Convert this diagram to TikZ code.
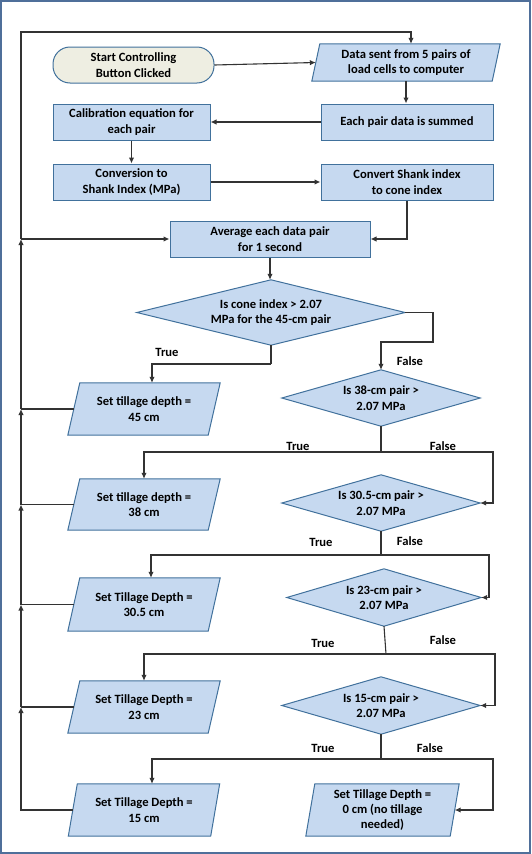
\documentclass[tikz,border=0pt]{standalone}
\usepackage{fontspec}
\setmainfont{Carlito}
\usetikzlibrary{arrows.meta}
\pgfdeclarelayer{bg}
\pgfsetlayers{bg,main}
\definecolor{boxfill}{HTML}{C6D9F0}
\definecolor{boxline}{HTML}{41719C}
\definecolor{startfill}{HTML}{EEEEE2}
\definecolor{frame}{HTML}{4F6F9A}
\definecolor{conn}{HTML}{333333}
\tikzset{
  txt/.style={font=\fontsize{12.6}{15.3}\selectfont\bfseries, align=center, inner sep=0pt, text=black},
  procbox/.style={txt, rectangle, draw=boxline, fill=boxfill, line width=1pt},
  startbox/.style={txt, rectangle, rounded corners=17pt, draw=boxline, fill=startfill, line width=1pt},
  ghost/.style={txt, rectangle},
  shapefill/.style={draw=boxline, fill=boxfill, line width=1pt, line join=miter},
  arr/.style={draw=conn, line width=1.1pt, -{Latex[length=6pt,width=5.5pt]}},
  ln/.style={draw=conn, line width=1.1pt},
  lab/.style={font=\fontsize{12.6}{15}\selectfont\bfseries, inner sep=0pt, text=black}
}
\begin{document}
\begin{tikzpicture}[x=1pt,y=-1pt]
\useasboundingbox (0,0) rectangle (531,854);
\draw[frame, line width=2pt] (1,1) rectangle (530,853);

% process nodes
\node[startbox, minimum width=161pt, minimum height=36pt] (start) at (133.5,65) {Start Controlling\\Button Clicked};
\node[ghost, minimum width=180pt, minimum height=37pt] (data) at (406,62.5) {Data sent from 5 pairs of\\load cells to computer};
\node[procbox, minimum width=172pt, minimum height=36pt] (sum) at (407,122) {Each pair data is summed};
\node[procbox, minimum width=157pt, minimum height=36pt] (calib) at (131.5,122) {Calibration equation for\\each pair};
\node[procbox, minimum width=157pt, minimum height=36pt] (conv) at (131.5,182) {Conversion to\\Shank Index (MPa)};
\node[procbox, minimum width=172pt, minimum height=36pt] (shank) at (407,182) {Convert Shank index\\to cone index};
\node[procbox, minimum width=200pt, minimum height=36pt] (avg) at (270,239) {Average each data pair\\for 1 second};

% decisions
\node[ghost, minimum width=268pt, minimum height=65pt] (d1) at (271,312.5) {Is cone index {>} 2.07\\MPa for the 45-cm pair};
\node[ghost, minimum width=198pt, minimum height=56pt] (d2) at (381,398) {Is 38-cm pair {>}\\2.07 MPa};
\node[ghost, minimum width=198pt, minimum height=56pt] (d3) at (381,503) {Is 30.5-cm pair {>}\\2.07 MPa};
\node[ghost, minimum width=194pt, minimum height=57pt] (d4) at (384,597.5) {Is 23-cm pair {>}\\2.07 MPa};
\node[ghost, minimum width=198pt, minimum height=57pt] (d5) at (381,705.5) {Is 15-cm pair {>}\\2.07 MPa};

% outputs
\node[ghost, minimum width=140pt, minimum height=52pt] (t45) at (144,409) {Set tillage depth =\\45 cm};
\node[ghost, minimum width=140pt, minimum height=51pt] (t38) at (144,504.5) {Set tillage depth =\\38 cm};
\node[ghost, minimum width=140pt, minimum height=53pt] (t30) at (144,604.5) {Set Tillage Depth =\\30.5 cm};
\node[ghost, minimum width=140pt, minimum height=52pt] (t23) at (144,707) {Set Tillage Depth =\\23 cm};
\node[ghost, minimum width=142pt, minimum height=52pt] (t15) at (144,810) {Set Tillage Depth =\\15 cm};
\node[ghost, minimum width=144pt, minimum height=52pt] (t0) at (382.5,810) {Set Tillage Depth =\\0 cm (no tillage\\needed)};

\begin{pgfonlayer}{bg}
  \foreach \n in {d1,d2,d3,d4,d5}
    \draw[shapefill] (\n.north) -- (\n.east) -- (\n.south) -- (\n.west) -- cycle;
  \foreach \n/\s in {data/4,t45/6,t38/6,t30/6,t23/6,t15/4.5,t0/4.5}
    \draw[shapefill] ([xshift=\s pt]\n.north west) -- ([xshift=\s pt]\n.north east)
      -- ([xshift=-\s pt]\n.south east) -- ([xshift=-\s pt]\n.south west) -- cycle;
\end{pgfonlayer}

% labels
\node[lab] (lt1) at (167,352) {True};
\node[lab] (lf1) at (410,361) {False};
\node[lab] (lt2) at (298,446) {True};
\node[lab] (lf2) at (443,446) {False};
\node[lab] (lt3) at (321,542) {True};
\node[lab] (lf3) at (410,541) {False};
\node[lab] (lt4) at (323,643) {True};
\node[lab] (lf4) at (443,640) {False};
\node[lab] (lt5) at (323,748) {True};
\node[lab] (lf5) at (430,748) {False};

% helper coordinates
\coordinate (ja) at (21,239);
\coordinate (tc) at (411,32);
\coordinate (b1) at (433,342);
\coordinate (s1) at (271,364);
\coordinate (s2) at (381,452);
\coordinate (r2) at (493,452);
\coordinate (s3) at (381,555);
\coordinate (r3) at (489,555);
\coordinate (s4) at (386,654);
\coordinate (r4) at (495,654);
\coordinate (s5) at (381,759);
\coordinate (r5) at (493,759);
\coordinate (j45) at (t45.west -| ja);
\coordinate (j38) at (t38.west -| ja);
\coordinate (j30) at (t30.west -| ja);
\coordinate (j23) at (t23.west -| ja);

% connectors
\draw[arr] (start.east) -- (data.west);
\draw[arr] (data.south) -- (data.south |- sum.north);
\draw[arr] (sum.west) -- (calib.east);
\draw[arr] (calib.south) -- (conv.north);
\draw[arr] (conv.east) -- (shank.west);
\draw[arr] (shank.south) |- (avg.east);
\draw[arr] (avg.south) -- (avg.south |- d1.north);
\draw[ln] (d1.south) -- (s1);
\draw[arr] (s1) -| ([xshift=8pt]t45.north);
\draw[arr] (d1.east) -| (b1) -| (d2.north);
\draw[ln] (d2.south) -- (s2);
\draw[arr] (s2) -| (t38.north);
\draw[arr] (s2) -- (r2) |- (d3.east);
\draw[ln] (d3.south) -- (s3);
\draw[arr] (s3) -| ([xshift=7pt]t30.north);
\draw[arr] (s3) -- (r3) |- (d4.east);
\draw[ln] (d4.south) -- (s4);
\draw[arr] (s4) -| (t23.north);
\draw[arr] (s4) -- (r4) |- (d5.east);
\draw[ln] (d5.south) -- (s5);
\draw[arr] (s5) -| ([xshift=8pt]t15.north);
\draw[arr] (s5) -- (r5) |- (t0.east);

% loop back
\draw[arr] (ja) -- (avg.west);
\draw[arr] (ja) |- (tc) -- (tc |- data.north);
\draw[ln] (t45.west) -- (j45);
\draw[arr] (j45) -- (ja);
\draw[ln] (t38.west) -- (j38);
\draw[arr] (j38) -- (j45);
\draw[ln] (t30.west) -- (j30);
\draw[arr] (j30) -- (j38);
\draw[ln] (t23.west) -- (j23);
\draw[arr] (j23) -- (j30);
\draw[arr] (t15.west) -| (j23);
\end{tikzpicture}
\end{document}
